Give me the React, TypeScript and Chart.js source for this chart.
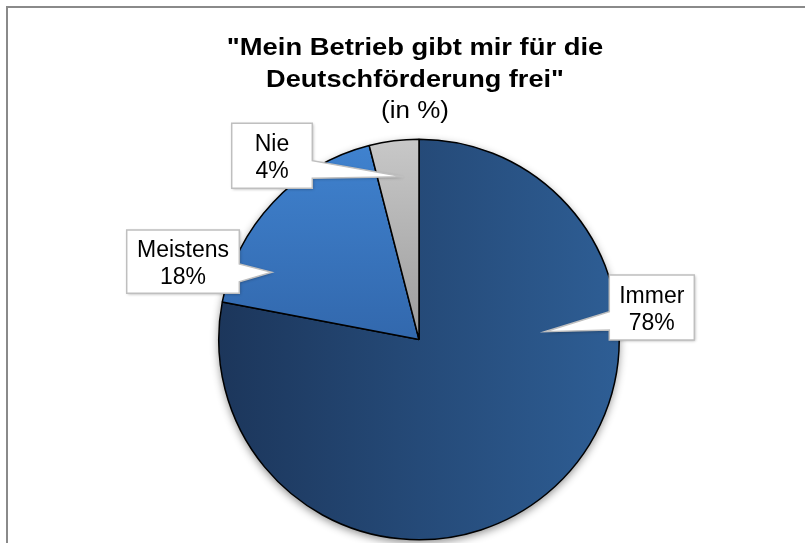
import { useEffect, useRef } from 'react';
import { Chart, registerables } from 'chart.js';

Chart.register(...registerables);

const categories = ['Immer', 'Meistens', 'Nie'];
const values = [78, 18, 4];
const valueLabels = ['78%', '18%', '4%'];
const titleLines = ['"Mein Betrieb gibt mir für die', 'Deutschförderung frei"'];
const subtitleText = '(in %)';

const FONT = '"Liberation Sans", Arial, sans-serif';

// callout layout, relative to the pie centre (px)
const callouts = [
  { box: [190.3, -64.5, 85, 65], side: 'left', base: [-27.8, -9.5], tip: [126, -7.8] },
  { box: [-292.3, -109.5, 112.6, 63.3], side: 'right', base: [-75.5, -57.8], tip: [-147.3, -67.2] },
  { box: [-187.3, -216.2, 80.6, 65], side: 'right', base: [-178.8, -161.2], tip: [-15.7, -162.8] },
];

const gradientStops: string[][] = [
  ['#1c365b', '#2e5e95'],
  ['#4083d0', '#3268ad'],
  ['#c8c8c8', '#9c9c9c'],
];

const decorPlugin = {
  id: 'decor',
  beforeDraw(chart: any) {
    const ctx = chart.ctx;
    ctx.save();
    ctx.strokeStyle = '#8a8a8a';
    ctx.lineWidth = 2;
    ctx.strokeRect(7, 7, chart.width + 20, chart.height + 20);
    ctx.restore();

    // title
    const meta = chart.getDatasetMeta(0);
    const arc = meta.data[0];
    const cx = arc ? arc.x - 4 : chart.width / 2;
    ctx.save();
    ctx.fillStyle = '#000';
    ctx.textAlign = 'center';
    ctx.textBaseline = 'alphabetic';
    const drawScaled = (text: string, y: number, font: string, sx: number) => {
      ctx.save();
      ctx.translate(cx, y);
      ctx.scale(sx, 1);
      ctx.font = font;
      ctx.fillText(text, 0, 0);
      ctx.restore();
    };
    drawScaled(titleLines[0], 54.5, `bold 23px ${FONT}`, 1.19);
    drawScaled(titleLines[1], 86.8, `bold 23px ${FONT}`, 1.18);
    drawScaled(subtitleText, 117.5, `23px ${FONT}`, 1.13);
    ctx.restore();
  },
  beforeDatasetsDraw(chart: any) {
    const meta = chart.getDatasetMeta(0);
    const arc = meta.data[0];
    if (!arc) return;
    const ctx = chart.ctx;
    ctx.save();
    ctx.shadowColor = 'rgba(0,0,0,0.45)';
    ctx.shadowBlur = 8;
    ctx.shadowOffsetY = 3;
    ctx.shadowOffsetX = 0;
    ctx.fillStyle = '#ffffff';
    ctx.beginPath();
    ctx.arc(arc.x, arc.y, arc.outerRadius, 0, Math.PI * 2);
    ctx.fill();
    ctx.restore();
  },
  afterDatasetsDraw(chart: any) {
    const meta = chart.getDatasetMeta(0);
    const ctx = chart.ctx;
    meta.data.forEach((arc: any, i: number) => {
      const c = callouts[i];
      const cx = arc.x;
      const cy = arc.y;
      const x = cx + c.box[0];
      const y = cy + c.box[1];
      const w = c.box[2];
      const h = c.box[3];
      const tx = cx + c.tip[0];
      const ty = cy + c.tip[1];
      ctx.save();
      ctx.beginPath();
      if (c.side === 'right') {
        ctx.moveTo(x, y);
        ctx.lineTo(x + w, y);
        ctx.lineTo(x + w, cy + c.base[0]);
        ctx.lineTo(tx, ty);
        ctx.lineTo(x + w, cy + c.base[1]);
        ctx.lineTo(x + w, y + h);
        ctx.lineTo(x, y + h);
      } else {
        ctx.moveTo(x, y);
        ctx.lineTo(x + w, y);
        ctx.lineTo(x + w, y + h);
        ctx.lineTo(x, y + h);
        ctx.lineTo(x, cy + c.base[1]);
        ctx.lineTo(tx, ty);
        ctx.lineTo(x, cy + c.base[0]);
      }
      ctx.closePath();
      ctx.shadowColor = 'rgba(0,0,0,0.3)';
      ctx.shadowBlur = 3;
      ctx.shadowOffsetX = 1;
      ctx.shadowOffsetY = 1;
      ctx.fillStyle = '#ffffff';
      ctx.fill();
      ctx.shadowColor = 'rgba(0,0,0,0)';
      ctx.strokeStyle = '#bfbfbf';
      ctx.lineWidth = 1.5;
      ctx.stroke();

      ctx.fillStyle = '#000';
      ctx.font = `23px ${FONT}`;
      ctx.textAlign = 'center';
      ctx.textBaseline = 'alphabetic';
      const mx = x + w / 2;
      const my = y + h / 2;
      ctx.fillText(categories[i], mx, my - 5);
      ctx.fillText(valueLabels[i], mx, my + 22.5);
      ctx.restore();
    });
  },
};

export default function App() {
  const canvasRef = useRef<HTMLCanvasElement | null>(null);

  useEffect(() => {
    if (!canvasRef.current) return;
    const chart = new Chart(canvasRef.current, {
      type: 'pie',
      data: {
        labels: categories,
        datasets: [
          {
            data: values,
            backgroundColor: (context: any) => {
              const { chart, dataIndex } = context;
              const area = chart.chartArea;
              const stops = gradientStops[dataIndex] || ['#888', '#888'];
              if (!area) return stops[0];
              const c = chart.ctx;
              let g;
              if (dataIndex === 0) {
                g = c.createLinearGradient(area.left, 0, area.right, 0);
              } else {
                const midY = (area.top + area.bottom) / 2;
                g = c.createLinearGradient(0, area.top, 0, midY);
              }
              g.addColorStop(0, stops[0]);
              g.addColorStop(1, stops[1]);
              return g;
            },
            borderColor: '#000000',
            borderWidth: 1.5,
          },
        ],
      },
      options: {
        responsive: true,
        maintainAspectRatio: false,
        animation: false,
        layout: { padding: { left: 218, top: 138, right: 185, bottom: 2 } },
        plugins: {
          legend: { display: false },
          tooltip: { enabled: false },
          title: { display: false },
        },
      },
      plugins: [decorPlugin],
    });
    return () => chart.destroy();
  }, []);

  return (
    <div style={{ position: 'fixed', left: 0, top: 0, width: 805, height: 543, background: '#fff' }}>
      <canvas ref={canvasRef} />
    </div>
  );
}
